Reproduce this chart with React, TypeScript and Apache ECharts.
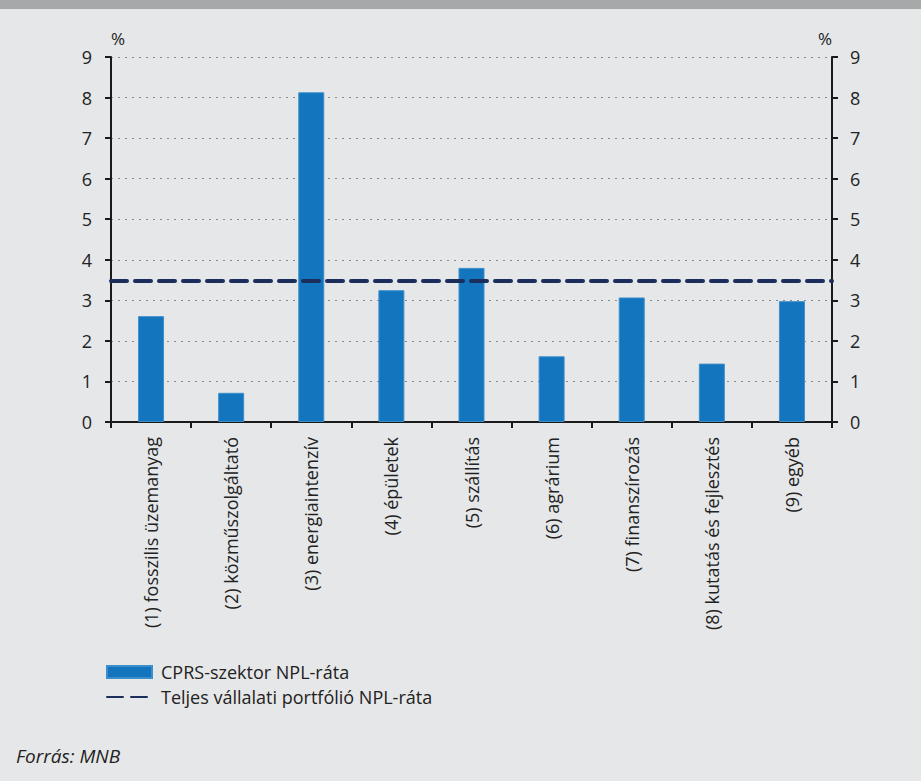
import React, { useEffect, useRef } from "react";
import * as echarts from "echarts";

const categories = [
  "(1) fosszilis üzemanyag",
  "(2) közműszolgáltató",
  "(3) energiaintenzív",
  "(4) épületek",
  "(5) szállítás",
  "(6) agrárium",
  "(7) finanszírozás",
  "(8) kutatás és fejlesztés",
  "(9) egyéb",
];
const cprsNpl = [2.61, 0.72, 8.13, 3.25, 3.8, 1.62, 3.07, 1.44, 2.98];
const portfolioNpl = 3.48;
const seriesNames = ["CPRS-szektor NPL-ráta", "Teljes vállalati portfólió NPL-ráta"];
const yTicks = { min: 0, max: 9, interval: 1 };
const sourceText = "Forrás: MNB";

const FONT = "'Open Sans', 'Noto Sans', sans-serif";
const TEXT = "#222222";

export default function App() {
  const ref = useRef<HTMLDivElement>(null);
  useEffect(() => {
    document.body.style.margin = "0";
    document.body.style.background = "#e6e7e8";
    const chart = echarts.init(ref.current!, null, { renderer: "svg" });
    const axisLine = { show: true, lineStyle: { color: "#1a1a1a", width: 2 } };
    const axisTick = { show: true, length: 6, lineStyle: { color: "#1a1a1a", width: 2 } };
    const yAxisBase = {
      type: "value",
      min: yTicks.min,
      max: yTicks.max,
      interval: yTicks.interval,
      axisLine,
      axisTick,
      name: "%",
      nameLocation: "end",
      nameGap: 10,
    };
    chart.setOption({
      animation: false,
      backgroundColor: "#e6e7e8",
      textStyle: { fontFamily: FONT },
      grid: { left: 111, right: 89, top: 57, bottom: 359, containLabel: false },
      legend: {
        orient: "vertical",
        left: 106,
        top: 662,
        padding: 0,
        itemWidth: 45,
        itemHeight: 12,
        itemGap: 5,
        textStyle: { fontSize: 18, color: TEXT, fontFamily: FONT, lineHeight: 20, padding: [0, 0, 0, 4] },
        data: [
          { name: seriesNames[0], icon: "rect" },
          { name: seriesNames[1], itemStyle: { opacity: 0 } },
        ],
      },
      xAxis: {
        type: "category",
        data: categories,
        axisLine,
        axisTick: { ...axisTick, alignWithLabel: false, interval: 0 },
        axisLabel: {
          rotate: 90,
          interval: 0,
          margin: 15,
          fontSize: 18,
          color: TEXT,
          fontFamily: FONT,
        },
        splitLine: { show: false },
      },
      yAxis: [
        {
          ...yAxisBase,
          position: "left",
          nameTextStyle: { fontSize: 17, color: TEXT, fontFamily: FONT, align: "left" },
          axisLabel: { fontSize: 18, color: TEXT, margin: 19, fontFamily: FONT },
          splitLine: { show: true, lineStyle: { color: "#8a8a8a", width: 1, type: [2, 5] } },
        },
        {
          ...yAxisBase,
          position: "right",
          nameTextStyle: { fontSize: 17, color: TEXT, fontFamily: FONT, align: "right" },
          axisLabel: { fontSize: 18, color: TEXT, margin: 18, fontFamily: FONT },
          splitLine: { show: false },
        },
      ],
      series: [
        {
          name: seriesNames[0],
          type: "bar",
          data: cprsNpl,
          barWidth: 26,
          itemStyle: { color: "#1275bd", borderColor: "#3d8fcc", borderWidth: 1 },
          z: 2,
        },
        {
          name: seriesNames[1],
          type: "line",
          data: [],
          symbol: "none",
          lineStyle: { color: "#1b2d5b", width: 4, type: [16, 8], cap: "round" },
          itemStyle: { color: "#1b2d5b" },
          markLine: {
            silent: true,
            symbol: ["none", "none"],
            label: { show: false },
            lineStyle: { color: "#1b2d5b", width: 4, type: [16, 8], cap: "round" },
            data: [{ yAxis: portfolioNpl }],
          },
          z: 3,
        },
      ],
      graphic: [
        { type: "rect", left: 0, top: 0, shape: { width: 921, height: 9 }, style: { fill: "#a7a8aa" } },
        {
          type: "text",
          left: 16,
          top: 746,
          style: { text: sourceText, font: `italic 19px ${FONT}`, fill: TEXT },
        },
      ],
    });
    return () => chart.dispose();
  }, []);
  return <div ref={ref} style={{ width: 921, height: 781 }} />;
}
